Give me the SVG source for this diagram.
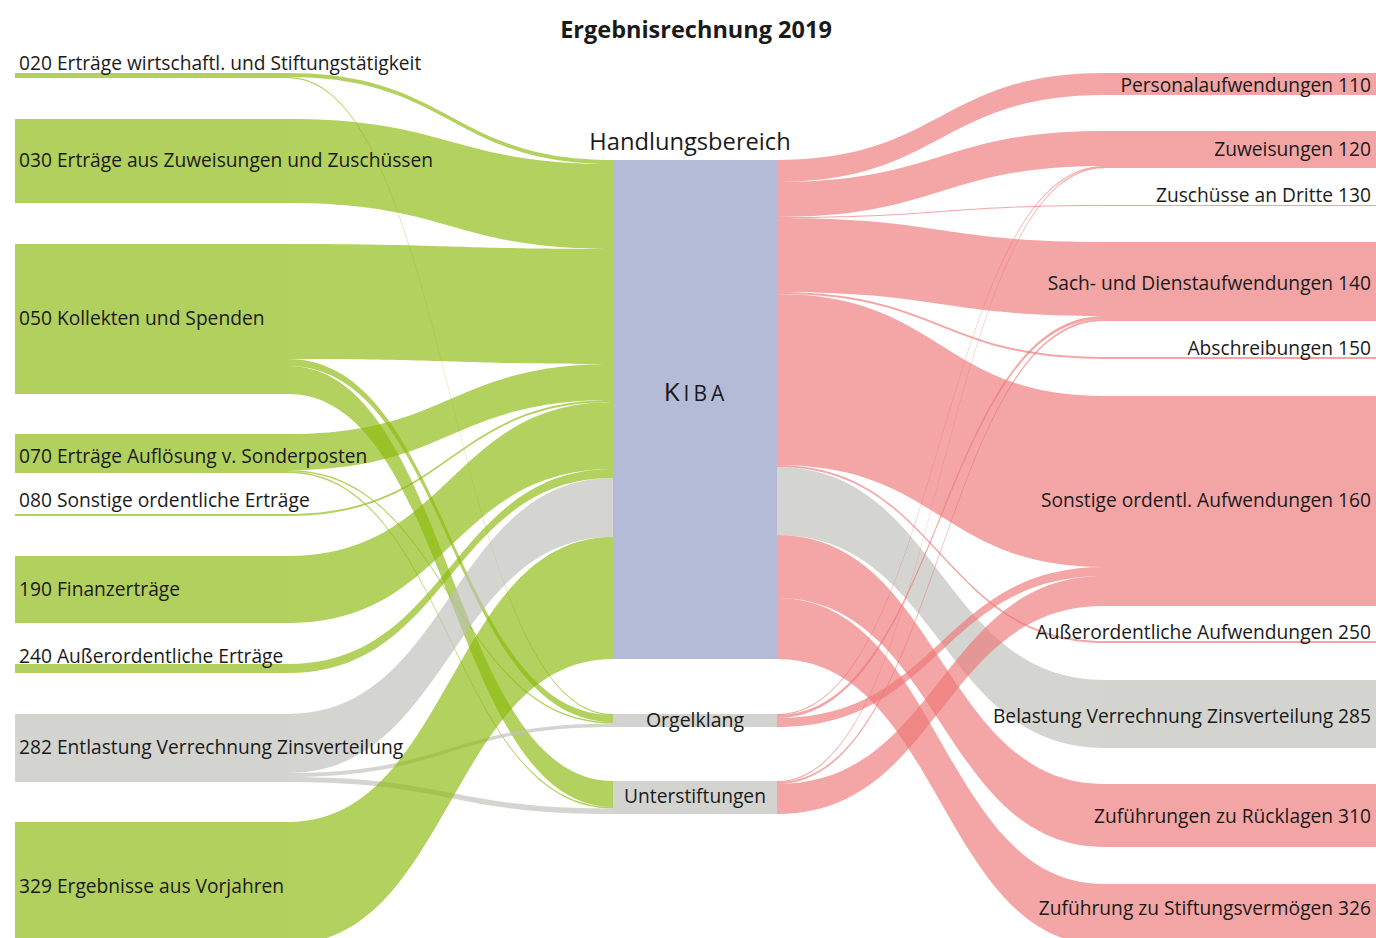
<svg xmlns="http://www.w3.org/2000/svg" width="1376" height="938" viewBox="0 0 1376 938">
<style>
text{font-family:"Open Sans","Noto Sans","Liberation Sans",sans-serif;fill:#1a1a1a}
.lbl{font-size:19.2px}
.r{text-anchor:end}
.c{text-anchor:middle}
.ng{fill:#b2d05e}
.nr{fill:#f3a5a5}
.ny{fill:#d3d4d0}
.nk{fill:#b4bbd7}
.lg{fill:#8bb90c;fill-opacity:.66}
.lr{fill:#ee7777;fill-opacity:.66}
.ly{fill:#bdbfb9;fill-opacity:.66}
</style>
<rect width="1376" height="938" fill="#fff"/>
<g id="links">
<path class="lg" d="M288 73C450.5 73 450.5 160 613 160L613 164C450.5 164 450.5 77 288 77Z"/>
<path class="lg" d="M288 77C450.5 77 450.5 714 613 714L613 715.2C450.5 715.2 450.5 78.2 288 78.2Z"/>
<path class="lg" d="M288 119C450.5 119 450.5 164 613 164L613 249C450.5 249 450.5 203 288 203Z"/>
<path class="lg" d="M288 244C450.5 244 450.5 249 613 249L613 364C450.5 364 450.5 359 288 359Z"/>
<path class="lg" d="M288 359C450.5 359 450.5 715 613 715L613 722C450.5 722 450.5 366 288 366Z"/>
<path class="lg" d="M288 366C450.5 366 450.5 781 613 781L613 807C450.5 807 450.5 394 288 394Z"/>
<path class="lg" d="M288 434C450.5 434 450.5 364 613 364L613 400C450.5 400 450.5 470 288 470Z"/>
<path class="lg" d="M288 470C450.5 470 450.5 722 613 722L613 723.5C450.5 723.5 450.5 471.5 288 471.5Z"/>
<path class="lg" d="M288 471.5C450.5 471.5 450.5 807 613 807L613 808.5C450.5 808.5 450.5 473 288 473Z"/>
<path class="lg" d="M288 514C450.5 514 450.5 400 613 400L613 402C450.5 402 450.5 516 288 516Z"/>
<path class="lg" d="M288 556C450.5 556 450.5 402 613 402L613 469C450.5 469 450.5 623 288 623Z"/>
<path class="lg" d="M288 664C450.5 664 450.5 469 613 469L613 478C450.5 478 450.5 673 288 673Z"/>
<path class="ly" d="M288 714C450.5 714 450.5 478 613 478L613 537C450.5 537 450.5 773 288 773Z"/>
<path class="ly" d="M288 773C450.5 773 450.5 723.5 613 723.5L613 727C450.5 727 450.5 777 288 777Z"/>
<path class="ly" d="M288 777C450.5 777 450.5 808.5 613 808.5L613 814C450.5 814 450.5 782 288 782Z"/>
<path class="lg" d="M288 822C450.5 822 450.5 537 613 537L613 659C450.5 659 450.5 944 288 944Z"/>
<path class="lr" d="M777 160C940.5 160 940.5 73 1104 73L1104 95C940.5 95 940.5 182 777 182Z"/>
<path class="lr" d="M777 182C940.5 182 940.5 131 1104 131L1104 166C940.5 166 940.5 217 777 217Z"/>
<path class="lr" d="M777 217C940.5 217 940.5 205 1104 205L1104 206C940.5 206 940.5 218 777 218Z"/>
<path class="lr" d="M777 218C940.5 218 940.5 242 1104 242L1104 316C940.5 316 940.5 292 777 292Z"/>
<path class="lr" d="M777 292C940.5 292 940.5 357 1104 357L1104 359C940.5 359 940.5 294 777 294Z"/>
<path class="lr" d="M777 294C940.5 294 940.5 396 1104 396L1104 567C940.5 567 940.5 465 777 465Z"/>
<path class="lr" d="M777 465C940.5 465 940.5 641 1104 641L1104 643C940.5 643 940.5 467 777 467Z"/>
<path class="ly" d="M777 467C940.5 467 940.5 680 1104 680L1104 748C940.5 748 940.5 535 777 535Z"/>
<path class="lr" d="M777 535C940.5 535 940.5 784 1104 784L1104 847C940.5 847 940.5 598 777 598Z"/>
<path class="lr" d="M777 598C940.5 598 940.5 884 1104 884L1104 945C940.5 945 940.5 659 777 659Z"/>
<path class="lr" d="M777 714C940.5 714 940.5 166 1104 166L1104 167.2C940.5 167.2 940.5 715.2 777 715.2Z"/>
<path class="lr" d="M777 715C940.5 715 940.5 316 1104 316L1104 319C940.5 319 940.5 718 777 718Z"/>
<path class="lr" d="M777 718C940.5 718 940.5 567 1104 567L1104 576C940.5 576 940.5 727 777 727Z"/>
<path class="lr" d="M777 781C940.5 781 940.5 167 1104 167L1104 168.2C940.5 168.2 940.5 782.2 777 782.2Z"/>
<path class="lr" d="M777 782C940.5 782 940.5 319 1104 319L1104 321C940.5 321 940.5 784 777 784Z"/>
<path class="lr" d="M777 784C940.5 784 940.5 576 1104 576L1104 606C940.5 606 940.5 814 777 814Z"/>
</g>
<text class="c" x="696" y="38" font-size="23.5" font-weight="bold">Ergebnisrechnung 2019</text>
<g id="n020"><rect class="ng" x="15" y="73" width="273" height="5"/><text class="lbl" x="19" y="70">020 Erträge wirtschaftl. und Stiftungstätigkeit</text></g>
<g id="n030"><rect class="ng" x="15" y="119" width="273" height="84"/><text class="lbl" x="19" y="167">030 Erträge aus Zuweisungen und Zuschüssen</text></g>
<g id="n050"><rect class="ng" x="15" y="244" width="273" height="150"/><text class="lbl" x="19" y="325">050 Kollekten und Spenden</text></g>
<g id="n070"><rect class="ng" x="15" y="434" width="273" height="39"/><text class="lbl" x="19" y="463">070 Erträge Auflösung v. Sonderposten</text></g>
<g id="n080"><rect class="ng" x="15" y="514" width="273" height="2"/><text class="lbl" x="19" y="507">080 Sonstige ordentliche Erträge</text></g>
<g id="n190"><rect class="ng" x="15" y="556" width="273" height="67"/><text class="lbl" x="19" y="596">190 Finanzerträge</text></g>
<g id="n240"><rect class="ng" x="15" y="664" width="273" height="9"/><text class="lbl" x="19" y="663">240 Außerordentliche Erträge</text></g>
<g id="n282"><rect class="ny" x="15" y="714" width="273" height="68"/><text class="lbl" x="19" y="754">282 Entlastung Verrechnung Zinsverteilung</text></g>
<g id="n329"><rect class="ng" x="15" y="822" width="273" height="122"/><text class="lbl" x="19" y="893">329 Ergebnisse aus Vorjahren</text></g>
<g id="kiba"><rect class="nk" x="613" y="160" width="164" height="499"/><text class="c" x="690" y="150" font-size="23.7">Handlungsbereich</text><text class="c" x="696" y="401" font-size="26" letter-spacing="4">K<tspan font-size="21">IBA</tspan></text></g>
<g id="orgelklang"><rect class="ny" x="613" y="714" width="164" height="13"/><text class="c" x="695" y="727" font-size="19.5">Orgelklang</text></g>
<g id="unterstiftungen"><rect class="ny" x="613" y="781" width="164" height="33"/><text class="c lbl" x="695" y="803">Unterstiftungen</text></g>
<g id="n110"><rect class="nr" x="1104" y="73" width="272" height="22"/><text class="lbl r" x="1371" y="92">Personalaufwendungen 110</text></g>
<g id="n120"><rect class="nr" x="1104" y="131" width="272" height="37"/><text class="lbl r" x="1371" y="156">Zuweisungen 120</text></g>
<g id="n130"><rect class="nr" x="1104" y="205" width="272" height="1"/><text class="lbl r" x="1371" y="202">Zuschüsse an Dritte 130</text></g>
<g id="n140"><rect class="nr" x="1104" y="242" width="272" height="79"/><text class="lbl r" x="1371" y="290">Sach- und Dienstaufwendungen 140</text></g>
<g id="n150"><rect class="nr" x="1104" y="357" width="272" height="2"/><text class="lbl r" x="1371" y="355">Abschreibungen 150</text></g>
<g id="n160"><rect class="nr" x="1104" y="396" width="272" height="210"/><text class="lbl r" x="1371" y="507">Sonstige ordentl. Aufwendungen 160</text></g>
<g id="n250"><rect class="nr" x="1104" y="641" width="272" height="2"/><text class="lbl r" x="1371" y="639">Außerordentliche Aufwendungen 250</text></g>
<g id="n285"><rect class="ny" x="1104" y="680" width="272" height="68"/><text class="lbl r" x="1371" y="723">Belastung Verrechnung Zinsverteilung 285</text></g>
<g id="n310"><rect class="nr" x="1104" y="784" width="272" height="63"/><text class="lbl r" x="1371" y="823">Zuführungen zu Rücklagen 310</text></g>
<g id="n326"><rect class="nr" x="1104" y="884" width="272" height="61"/><text class="lbl r" x="1371" y="915">Zuführung zu Stiftungsvermögen 326</text></g>
</svg>
